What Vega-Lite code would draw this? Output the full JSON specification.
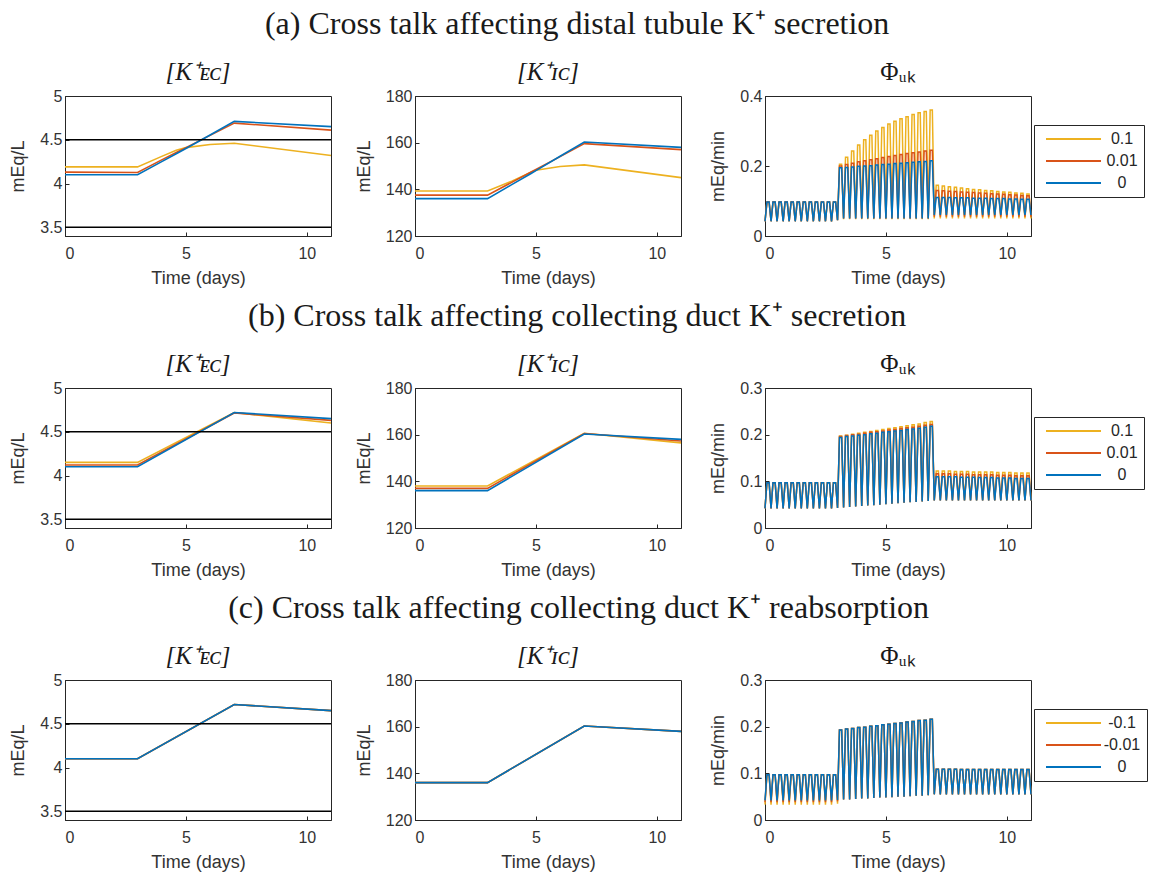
{
"$schema":"https://vega.github.io/schema/vega-lite/v6.json",
"background":"white",
"padding":{"left":9,"top":7,"right":0,"bottom":0},
"bounds":"flush",
"spacing":292,
"config":{
 "view":{"stroke":"#262626","strokeWidth":1},
 "axis":{"labelFont":"Liberation Sans","labelFontSize":16,"labelColor":"#333333","titleFont":"Liberation Sans","titleFontSize":18,"titleFontWeight":"normal","titleColor":"#333333","grid":false,"domainColor":"#262626","tickColor":"#262626","tickSize":-4,"format":"~r"},
 "axisX":{"labelPadding":13,"titlePadding":8},
 "axisY":{"labelPadding":7,"titlePadding":12},
 "legend":{"orient":"none","legendX":269,"legendY":29,"strokeColor":"#262626","fillColor":"white","padding":6,"symbolType":"M-0.4,0H10.6","symbolSize":100,"symbolStrokeWidth":2,"symbolFillColor":"transparent","labelFont":"Liberation Sans","labelFontSize":16,"labelColor":"#262626","labelAlign":"center","rowPadding":6,"labelOffset":66},
 "title":{"font":"Liberation Serif","fontWeight":"normal","color":"#1a1a1a"}
},
"datasets":{
 "A1":[{"t":0,"a":4.19,"m":4.13,"z":4.1},{"t":3,"a":4.19,"m":4.125,"z":4.1},{"t":4,"a":4.31,"m":4.27,"z":4.25},{"t":4.6,"a":4.38,"m":4.355,"z":4.34},{"t":5,"a":4.41,"m":4.41,"z":4.4},{"t":6,"a":4.445,"m":4.55,"z":4.555},{"t":7,"a":4.46,"m":4.69,"z":4.71},{"t":11,"a":4.32,"m":4.61,"z":4.65}],
 "A2":[{"t":0,"a":139.3,"m":137.5,"z":136},{"t":3,"a":139.3,"m":137.5,"z":136},{"t":4,"a":143.5,"m":143,"z":142},{"t":4.8,"a":147.3,"m":147.4,"z":146.8},{"t":5,"a":148.2,"m":148.5,"z":148},{"t":6,"a":149.8,"m":154,"z":154.2},{"t":7,"a":150.5,"m":159.6,"z":160.3},{"t":11,"a":145,"m":157,"z":158}],
 "B1":[{"t":0,"a":4.15,"m":4.12,"z":4.1},{"t":3,"a":4.15,"m":4.12,"z":4.1},{"t":7,"a":4.72,"m":4.715,"z":4.72},{"t":11,"a":4.6,"m":4.63,"z":4.65}],
 "B2":[{"t":0,"a":138,"m":137,"z":136},{"t":3,"a":138,"m":137,"z":136},{"t":7,"a":160.6,"m":160.5,"z":160.3},{"t":11,"a":156.5,"m":157.3,"z":158}],
 "C1":[{"t":0,"a":4.1,"m":4.1,"z":4.1},{"t":3,"a":4.1,"m":4.1,"z":4.1},{"t":7,"a":4.72,"m":4.72,"z":4.72},{"t":11,"a":4.65,"m":4.65,"z":4.65}],
 "C2":[{"t":0,"a":136,"m":136,"z":136},{"t":3,"a":136,"m":136,"z":136},{"t":7,"a":160.3,"m":160.3,"z":160.3},{"t":11,"a":158,"m":158,"z":158}],
 "PA":[
{"t":0,"a":0.042,"m":0.042,"z":0.042},{"t":0.08,"a":0.097,"m":0.097,"z":0.097},{"t":0.17,"a":0.097,"m":0.097,"z":0.097},
{"t":0.25,"a":0.042,"m":0.042,"z":0.042},{"t":0.33,"a":0.097,"m":0.097,"z":0.097},{"t":0.42,"a":0.097,"m":0.097,"z":0.097},
{"t":0.5,"a":0.042,"m":0.042,"z":0.042},{"t":0.58,"a":0.097,"m":0.097,"z":0.097},{"t":0.67,"a":0.097,"m":0.097,"z":0.097},
{"t":0.75,"a":0.042,"m":0.042,"z":0.042},{"t":0.83,"a":0.097,"m":0.097,"z":0.097},{"t":0.92,"a":0.097,"m":0.097,"z":0.097},
{"t":1,"a":0.042,"m":0.042,"z":0.042},{"t":1.08,"a":0.097,"m":0.097,"z":0.097},{"t":1.17,"a":0.097,"m":0.097,"z":0.097},
{"t":1.25,"a":0.042,"m":0.042,"z":0.042},{"t":1.33,"a":0.097,"m":0.097,"z":0.097},{"t":1.42,"a":0.097,"m":0.097,"z":0.097},
{"t":1.5,"a":0.042,"m":0.042,"z":0.042},{"t":1.58,"a":0.097,"m":0.097,"z":0.097},{"t":1.67,"a":0.097,"m":0.097,"z":0.097},
{"t":1.75,"a":0.042,"m":0.042,"z":0.042},{"t":1.83,"a":0.097,"m":0.097,"z":0.097},{"t":1.92,"a":0.097,"m":0.097,"z":0.097},
{"t":2,"a":0.042,"m":0.042,"z":0.042},{"t":2.08,"a":0.097,"m":0.097,"z":0.097},{"t":2.17,"a":0.097,"m":0.097,"z":0.097},
{"t":2.25,"a":0.042,"m":0.042,"z":0.042},{"t":2.33,"a":0.097,"m":0.097,"z":0.097},{"t":2.42,"a":0.097,"m":0.097,"z":0.097},
{"t":2.5,"a":0.042,"m":0.042,"z":0.042},{"t":2.58,"a":0.097,"m":0.097,"z":0.097},{"t":2.67,"a":0.097,"m":0.097,"z":0.097},
{"t":2.75,"a":0.042,"m":0.042,"z":0.042},{"t":2.83,"a":0.097,"m":0.097,"z":0.097},{"t":2.92,"a":0.097,"m":0.097,"z":0.097},
{"t":3,"a":0.045,"m":0.045,"z":0.045},{"t":3.08,"a":0.205,"m":0.2,"z":0.195},{"t":3.17,"a":0.205,"m":0.2,"z":0.195},
{"t":3.25,"a":0.048,"m":0.05,"z":0.05},{"t":3.33,"a":0.225,"m":0.204,"z":0.196},{"t":3.42,"a":0.225,"m":0.204,"z":0.196},
{"t":3.5,"a":0.048,"m":0.05,"z":0.05},{"t":3.58,"a":0.243,"m":0.208,"z":0.197},{"t":3.67,"a":0.243,"m":0.208,"z":0.197},
{"t":3.75,"a":0.048,"m":0.05,"z":0.05},{"t":3.83,"a":0.26,"m":0.212,"z":0.199},{"t":3.92,"a":0.26,"m":0.212,"z":0.199},
{"t":4,"a":0.048,"m":0.05,"z":0.05},{"t":4.08,"a":0.275,"m":0.215,"z":0.2},{"t":4.17,"a":0.275,"m":0.215,"z":0.2},
{"t":4.25,"a":0.048,"m":0.05,"z":0.05},{"t":4.33,"a":0.288,"m":0.218,"z":0.201},{"t":4.42,"a":0.288,"m":0.218,"z":0.201},
{"t":4.5,"a":0.048,"m":0.05,"z":0.05},{"t":4.58,"a":0.3,"m":0.221,"z":0.203},{"t":4.67,"a":0.3,"m":0.221,"z":0.203},
{"t":4.75,"a":0.048,"m":0.05,"z":0.05},{"t":4.83,"a":0.31,"m":0.224,"z":0.204},{"t":4.92,"a":0.31,"m":0.224,"z":0.204},
{"t":5,"a":0.048,"m":0.05,"z":0.05},{"t":5.08,"a":0.32,"m":0.227,"z":0.205},{"t":5.17,"a":0.32,"m":0.227,"z":0.205},
{"t":5.25,"a":0.048,"m":0.05,"z":0.05},{"t":5.33,"a":0.328,"m":0.23,"z":0.207},{"t":5.42,"a":0.328,"m":0.23,"z":0.207},
{"t":5.5,"a":0.048,"m":0.05,"z":0.05},{"t":5.58,"a":0.335,"m":0.233,"z":0.208},{"t":5.67,"a":0.335,"m":0.233,"z":0.208},
{"t":5.75,"a":0.048,"m":0.05,"z":0.05},{"t":5.83,"a":0.341,"m":0.236,"z":0.209},{"t":5.92,"a":0.341,"m":0.236,"z":0.209},
{"t":6,"a":0.048,"m":0.05,"z":0.05},{"t":6.08,"a":0.347,"m":0.238,"z":0.211},{"t":6.17,"a":0.347,"m":0.238,"z":0.211},
{"t":6.25,"a":0.048,"m":0.05,"z":0.05},{"t":6.33,"a":0.352,"m":0.24,"z":0.212},{"t":6.42,"a":0.352,"m":0.24,"z":0.212},
{"t":6.5,"a":0.048,"m":0.05,"z":0.05},{"t":6.58,"a":0.356,"m":0.243,"z":0.213},{"t":6.67,"a":0.356,"m":0.243,"z":0.213},
{"t":6.75,"a":0.048,"m":0.05,"z":0.05},{"t":6.83,"a":0.36,"m":0.245,"z":0.215},{"t":6.92,"a":0.36,"m":0.245,"z":0.215},
{"t":7,"a":0.05,"m":0.055,"z":0.06},{"t":7.08,"a":0.145,"m":0.13,"z":0.11},{"t":7.17,"a":0.145,"m":0.13,"z":0.11},
{"t":7.25,"a":0.05,"m":0.055,"z":0.06},{"t":7.33,"a":0.143,"m":0.129,"z":0.11},{"t":7.42,"a":0.143,"m":0.129,"z":0.11},
{"t":7.5,"a":0.05,"m":0.055,"z":0.06},{"t":7.58,"a":0.141,"m":0.128,"z":0.11},{"t":7.67,"a":0.141,"m":0.128,"z":0.11},
{"t":7.75,"a":0.05,"m":0.055,"z":0.06},{"t":7.83,"a":0.139,"m":0.127,"z":0.109},{"t":7.92,"a":0.139,"m":0.127,"z":0.109},
{"t":8,"a":0.05,"m":0.055,"z":0.06},{"t":8.08,"a":0.137,"m":0.126,"z":0.109},{"t":8.17,"a":0.137,"m":0.126,"z":0.109},
{"t":8.25,"a":0.05,"m":0.055,"z":0.06},{"t":8.33,"a":0.135,"m":0.125,"z":0.109},{"t":8.42,"a":0.135,"m":0.125,"z":0.109},
{"t":8.5,"a":0.05,"m":0.055,"z":0.06},{"t":8.58,"a":0.133,"m":0.124,"z":0.108},{"t":8.67,"a":0.133,"m":0.124,"z":0.108},
{"t":8.75,"a":0.05,"m":0.055,"z":0.06},{"t":8.83,"a":0.132,"m":0.123,"z":0.108},{"t":8.92,"a":0.132,"m":0.123,"z":0.108},
{"t":9,"a":0.05,"m":0.055,"z":0.06},{"t":9.08,"a":0.13,"m":0.122,"z":0.108},{"t":9.17,"a":0.13,"m":0.122,"z":0.108},
{"t":9.25,"a":0.05,"m":0.055,"z":0.06},{"t":9.33,"a":0.129,"m":0.121,"z":0.107},{"t":9.42,"a":0.129,"m":0.121,"z":0.107},
{"t":9.5,"a":0.05,"m":0.055,"z":0.06},{"t":9.58,"a":0.127,"m":0.12,"z":0.107},{"t":9.67,"a":0.127,"m":0.12,"z":0.107},
{"t":9.75,"a":0.05,"m":0.055,"z":0.06},{"t":9.83,"a":0.126,"m":0.119,"z":0.107},{"t":9.92,"a":0.126,"m":0.119,"z":0.107},
{"t":10,"a":0.05,"m":0.055,"z":0.06},{"t":10.08,"a":0.125,"m":0.118,"z":0.106},{"t":10.17,"a":0.125,"m":0.118,"z":0.106},
{"t":10.25,"a":0.05,"m":0.055,"z":0.06},{"t":10.33,"a":0.123,"m":0.117,"z":0.106},{"t":10.42,"a":0.123,"m":0.117,"z":0.106},
{"t":10.5,"a":0.05,"m":0.055,"z":0.06},{"t":10.58,"a":0.122,"m":0.116,"z":0.105},{"t":10.67,"a":0.122,"m":0.116,"z":0.105},
{"t":10.75,"a":0.05,"m":0.055,"z":0.06},{"t":10.83,"a":0.12,"m":0.115,"z":0.105},{"t":10.92,"a":0.12,"m":0.115,"z":0.105},
{"t":11,"a":0.05,"m":0.055,"z":0.06}],
 "PB":[
{"t":0,"a":0.042,"m":0.042,"z":0.042},{"t":0.08,"a":0.097,"m":0.097,"z":0.097},{"t":0.17,"a":0.097,"m":0.097,"z":0.097},
{"t":0.25,"a":0.042,"m":0.042,"z":0.042},{"t":0.33,"a":0.097,"m":0.097,"z":0.097},{"t":0.42,"a":0.097,"m":0.097,"z":0.097},
{"t":0.5,"a":0.042,"m":0.042,"z":0.042},{"t":0.58,"a":0.097,"m":0.097,"z":0.097},{"t":0.67,"a":0.097,"m":0.097,"z":0.097},
{"t":0.75,"a":0.042,"m":0.042,"z":0.042},{"t":0.83,"a":0.097,"m":0.097,"z":0.097},{"t":0.92,"a":0.097,"m":0.097,"z":0.097},
{"t":1,"a":0.042,"m":0.042,"z":0.042},{"t":1.08,"a":0.097,"m":0.097,"z":0.097},{"t":1.17,"a":0.097,"m":0.097,"z":0.097},
{"t":1.25,"a":0.042,"m":0.042,"z":0.042},{"t":1.33,"a":0.097,"m":0.097,"z":0.097},{"t":1.42,"a":0.097,"m":0.097,"z":0.097},
{"t":1.5,"a":0.042,"m":0.042,"z":0.042},{"t":1.58,"a":0.097,"m":0.097,"z":0.097},{"t":1.67,"a":0.097,"m":0.097,"z":0.097},
{"t":1.75,"a":0.042,"m":0.042,"z":0.042},{"t":1.83,"a":0.097,"m":0.097,"z":0.097},{"t":1.92,"a":0.097,"m":0.097,"z":0.097},
{"t":2,"a":0.042,"m":0.042,"z":0.042},{"t":2.08,"a":0.097,"m":0.097,"z":0.097},{"t":2.17,"a":0.097,"m":0.097,"z":0.097},
{"t":2.25,"a":0.042,"m":0.042,"z":0.042},{"t":2.33,"a":0.097,"m":0.097,"z":0.097},{"t":2.42,"a":0.097,"m":0.097,"z":0.097},
{"t":2.5,"a":0.042,"m":0.042,"z":0.042},{"t":2.58,"a":0.097,"m":0.097,"z":0.097},{"t":2.67,"a":0.097,"m":0.097,"z":0.097},
{"t":2.75,"a":0.042,"m":0.042,"z":0.042},{"t":2.83,"a":0.097,"m":0.097,"z":0.097},{"t":2.92,"a":0.097,"m":0.097,"z":0.097},
{"t":3,"a":0.043,"m":0.043,"z":0.043},{"t":3.08,"a":0.197,"m":0.196,"z":0.194},{"t":3.17,"a":0.197,"m":0.196,"z":0.194},
{"t":3.25,"a":0.044,"m":0.044,"z":0.044},{"t":3.33,"a":0.199,"m":0.198,"z":0.196},{"t":3.42,"a":0.199,"m":0.198,"z":0.196},
{"t":3.5,"a":0.045,"m":0.045,"z":0.045},{"t":3.58,"a":0.201,"m":0.2,"z":0.197},{"t":3.67,"a":0.201,"m":0.2,"z":0.197},
{"t":3.75,"a":0.046,"m":0.046,"z":0.046},{"t":3.83,"a":0.203,"m":0.201,"z":0.199},{"t":3.92,"a":0.203,"m":0.201,"z":0.199},
{"t":4,"a":0.047,"m":0.047,"z":0.047},{"t":4.08,"a":0.205,"m":0.203,"z":0.2},{"t":4.17,"a":0.205,"m":0.203,"z":0.2},
{"t":4.25,"a":0.048,"m":0.048,"z":0.048},{"t":4.33,"a":0.207,"m":0.205,"z":0.202},{"t":4.42,"a":0.207,"m":0.205,"z":0.202},
{"t":4.5,"a":0.049,"m":0.049,"z":0.049},{"t":4.58,"a":0.209,"m":0.206,"z":0.203},{"t":4.67,"a":0.209,"m":0.206,"z":0.203},
{"t":4.75,"a":0.05,"m":0.05,"z":0.05},{"t":4.83,"a":0.211,"m":0.208,"z":0.205},{"t":4.92,"a":0.211,"m":0.208,"z":0.205},
{"t":5,"a":0.051,"m":0.051,"z":0.051},{"t":5.08,"a":0.213,"m":0.21,"z":0.206},{"t":5.17,"a":0.213,"m":0.21,"z":0.206},
{"t":5.25,"a":0.052,"m":0.052,"z":0.052},{"t":5.33,"a":0.215,"m":0.211,"z":0.208},{"t":5.42,"a":0.215,"m":0.211,"z":0.208},
{"t":5.5,"a":0.053,"m":0.053,"z":0.053},{"t":5.58,"a":0.217,"m":0.213,"z":0.209},{"t":5.67,"a":0.217,"m":0.213,"z":0.209},
{"t":5.75,"a":0.054,"m":0.054,"z":0.054},{"t":5.83,"a":0.219,"m":0.215,"z":0.211},{"t":5.92,"a":0.219,"m":0.215,"z":0.211},
{"t":6,"a":0.055,"m":0.055,"z":0.055},{"t":6.08,"a":0.221,"m":0.216,"z":0.212},{"t":6.17,"a":0.221,"m":0.216,"z":0.212},
{"t":6.25,"a":0.056,"m":0.056,"z":0.056},{"t":6.33,"a":0.223,"m":0.218,"z":0.214},{"t":6.42,"a":0.223,"m":0.218,"z":0.214},
{"t":6.5,"a":0.057,"m":0.057,"z":0.057},{"t":6.58,"a":0.226,"m":0.22,"z":0.216},{"t":6.67,"a":0.226,"m":0.22,"z":0.216},
{"t":6.75,"a":0.058,"m":0.058,"z":0.058},{"t":6.83,"a":0.228,"m":0.222,"z":0.218},{"t":6.92,"a":0.228,"m":0.222,"z":0.218},
{"t":7,"a":0.059,"m":0.059,"z":0.059},{"t":7.08,"a":0.122,"m":0.116,"z":0.11},{"t":7.17,"a":0.122,"m":0.116,"z":0.11},
{"t":7.25,"a":0.059,"m":0.059,"z":0.059},{"t":7.33,"a":0.122,"m":0.116,"z":0.11},{"t":7.42,"a":0.122,"m":0.116,"z":0.11},
{"t":7.5,"a":0.059,"m":0.059,"z":0.059},{"t":7.58,"a":0.122,"m":0.116,"z":0.11},{"t":7.67,"a":0.122,"m":0.116,"z":0.11},
{"t":7.75,"a":0.059,"m":0.059,"z":0.059},{"t":7.83,"a":0.121,"m":0.115,"z":0.11},{"t":7.92,"a":0.121,"m":0.115,"z":0.11},
{"t":8,"a":0.059,"m":0.059,"z":0.059},{"t":8.08,"a":0.121,"m":0.115,"z":0.109},{"t":8.17,"a":0.121,"m":0.115,"z":0.109},
{"t":8.25,"a":0.059,"m":0.059,"z":0.059},{"t":8.33,"a":0.121,"m":0.115,"z":0.109},{"t":8.42,"a":0.121,"m":0.115,"z":0.109},
{"t":8.5,"a":0.059,"m":0.059,"z":0.059},{"t":8.58,"a":0.12,"m":0.114,"z":0.109},{"t":8.67,"a":0.12,"m":0.114,"z":0.109},
{"t":8.75,"a":0.059,"m":0.059,"z":0.059},{"t":8.83,"a":0.12,"m":0.114,"z":0.108},{"t":8.92,"a":0.12,"m":0.114,"z":0.108},
{"t":9,"a":0.059,"m":0.059,"z":0.059},{"t":9.08,"a":0.12,"m":0.114,"z":0.108},{"t":9.17,"a":0.12,"m":0.114,"z":0.108},
{"t":9.25,"a":0.059,"m":0.059,"z":0.059},{"t":9.33,"a":0.12,"m":0.114,"z":0.108},{"t":9.42,"a":0.12,"m":0.114,"z":0.108},
{"t":9.5,"a":0.059,"m":0.059,"z":0.059},{"t":9.58,"a":0.119,"m":0.113,"z":0.107},{"t":9.67,"a":0.119,"m":0.113,"z":0.107},
{"t":9.75,"a":0.059,"m":0.059,"z":0.059},{"t":9.83,"a":0.119,"m":0.113,"z":0.107},{"t":9.92,"a":0.119,"m":0.113,"z":0.107},
{"t":10,"a":0.059,"m":0.059,"z":0.059},{"t":10.08,"a":0.119,"m":0.113,"z":0.107},{"t":10.17,"a":0.119,"m":0.113,"z":0.107},
{"t":10.25,"a":0.059,"m":0.059,"z":0.059},{"t":10.33,"a":0.118,"m":0.112,"z":0.106},{"t":10.42,"a":0.118,"m":0.112,"z":0.106},
{"t":10.5,"a":0.059,"m":0.059,"z":0.059},{"t":10.58,"a":0.118,"m":0.112,"z":0.106},{"t":10.67,"a":0.118,"m":0.112,"z":0.106},
{"t":10.75,"a":0.059,"m":0.059,"z":0.059},{"t":10.83,"a":0.118,"m":0.112,"z":0.106},{"t":10.92,"a":0.118,"m":0.112,"z":0.106},
{"t":11,"a":0.059,"m":0.059,"z":0.059}],
 "PC":[
{"t":0,"a":0.033,"m":0.038,"z":0.042},{"t":0.08,"a":0.097,"m":0.097,"z":0.097},{"t":0.17,"a":0.097,"m":0.097,"z":0.097},
{"t":0.25,"a":0.033,"m":0.038,"z":0.042},{"t":0.33,"a":0.097,"m":0.097,"z":0.097},{"t":0.42,"a":0.097,"m":0.097,"z":0.097},
{"t":0.5,"a":0.033,"m":0.038,"z":0.042},{"t":0.58,"a":0.097,"m":0.097,"z":0.097},{"t":0.67,"a":0.097,"m":0.097,"z":0.097},
{"t":0.75,"a":0.033,"m":0.038,"z":0.042},{"t":0.83,"a":0.097,"m":0.097,"z":0.097},{"t":0.92,"a":0.097,"m":0.097,"z":0.097},
{"t":1,"a":0.033,"m":0.038,"z":0.042},{"t":1.08,"a":0.097,"m":0.097,"z":0.097},{"t":1.17,"a":0.097,"m":0.097,"z":0.097},
{"t":1.25,"a":0.033,"m":0.038,"z":0.042},{"t":1.33,"a":0.097,"m":0.097,"z":0.097},{"t":1.42,"a":0.097,"m":0.097,"z":0.097},
{"t":1.5,"a":0.033,"m":0.038,"z":0.042},{"t":1.58,"a":0.097,"m":0.097,"z":0.097},{"t":1.67,"a":0.097,"m":0.097,"z":0.097},
{"t":1.75,"a":0.033,"m":0.038,"z":0.042},{"t":1.83,"a":0.097,"m":0.097,"z":0.097},{"t":1.92,"a":0.097,"m":0.097,"z":0.097},
{"t":2,"a":0.033,"m":0.038,"z":0.042},{"t":2.08,"a":0.097,"m":0.097,"z":0.097},{"t":2.17,"a":0.097,"m":0.097,"z":0.097},
{"t":2.25,"a":0.033,"m":0.038,"z":0.042},{"t":2.33,"a":0.097,"m":0.097,"z":0.097},{"t":2.42,"a":0.097,"m":0.097,"z":0.097},
{"t":2.5,"a":0.033,"m":0.038,"z":0.042},{"t":2.58,"a":0.097,"m":0.097,"z":0.097},{"t":2.67,"a":0.097,"m":0.097,"z":0.097},
{"t":2.75,"a":0.033,"m":0.038,"z":0.042},{"t":2.83,"a":0.097,"m":0.097,"z":0.097},{"t":2.92,"a":0.097,"m":0.097,"z":0.097},
{"t":3,"a":0.035,"m":0.04,"z":0.043},{"t":3.08,"a":0.193,"m":0.193,"z":0.193},{"t":3.17,"a":0.193,"m":0.193,"z":0.193},
{"t":3.25,"a":0.044,"m":0.044,"z":0.044},{"t":3.33,"a":0.195,"m":0.195,"z":0.195},{"t":3.42,"a":0.195,"m":0.195,"z":0.195},
{"t":3.5,"a":0.044,"m":0.044,"z":0.044},{"t":3.58,"a":0.196,"m":0.196,"z":0.196},{"t":3.67,"a":0.196,"m":0.196,"z":0.196},
{"t":3.75,"a":0.045,"m":0.045,"z":0.045},{"t":3.83,"a":0.198,"m":0.198,"z":0.198},{"t":3.92,"a":0.198,"m":0.198,"z":0.198},
{"t":4,"a":0.046,"m":0.046,"z":0.046},{"t":4.08,"a":0.199,"m":0.199,"z":0.199},{"t":4.17,"a":0.199,"m":0.199,"z":0.199},
{"t":4.25,"a":0.046,"m":0.046,"z":0.046},{"t":4.33,"a":0.201,"m":0.201,"z":0.201},{"t":4.42,"a":0.201,"m":0.201,"z":0.201},
{"t":4.5,"a":0.047,"m":0.047,"z":0.047},{"t":4.58,"a":0.202,"m":0.202,"z":0.202},{"t":4.67,"a":0.202,"m":0.202,"z":0.202},
{"t":4.75,"a":0.048,"m":0.048,"z":0.048},{"t":4.83,"a":0.204,"m":0.204,"z":0.204},{"t":4.92,"a":0.204,"m":0.204,"z":0.204},
{"t":5,"a":0.048,"m":0.048,"z":0.048},{"t":5.08,"a":0.205,"m":0.205,"z":0.205},{"t":5.17,"a":0.205,"m":0.205,"z":0.205},
{"t":5.25,"a":0.049,"m":0.049,"z":0.049},{"t":5.33,"a":0.207,"m":0.207,"z":0.207},{"t":5.42,"a":0.207,"m":0.207,"z":0.207},
{"t":5.5,"a":0.05,"m":0.05,"z":0.05},{"t":5.58,"a":0.208,"m":0.208,"z":0.208},{"t":5.67,"a":0.208,"m":0.208,"z":0.208},
{"t":5.75,"a":0.05,"m":0.05,"z":0.05},{"t":5.83,"a":0.21,"m":0.21,"z":0.21},{"t":5.92,"a":0.21,"m":0.21,"z":0.21},
{"t":6,"a":0.051,"m":0.051,"z":0.051},{"t":6.08,"a":0.211,"m":0.211,"z":0.211},{"t":6.17,"a":0.211,"m":0.211,"z":0.211},
{"t":6.25,"a":0.052,"m":0.052,"z":0.052},{"t":6.33,"a":0.213,"m":0.213,"z":0.213},{"t":6.42,"a":0.213,"m":0.213,"z":0.213},
{"t":6.5,"a":0.052,"m":0.052,"z":0.052},{"t":6.58,"a":0.214,"m":0.214,"z":0.214},{"t":6.67,"a":0.214,"m":0.214,"z":0.214},
{"t":6.75,"a":0.053,"m":0.053,"z":0.053},{"t":6.83,"a":0.216,"m":0.216,"z":0.216},{"t":6.92,"a":0.216,"m":0.216,"z":0.216},
{"t":7,"a":0.055,"m":0.055,"z":0.055},{"t":7.08,"a":0.109,"m":0.109,"z":0.109},{"t":7.17,"a":0.109,"m":0.109,"z":0.109},
{"t":7.25,"a":0.055,"m":0.055,"z":0.055},{"t":7.33,"a":0.109,"m":0.109,"z":0.109},{"t":7.42,"a":0.109,"m":0.109,"z":0.109},
{"t":7.5,"a":0.055,"m":0.055,"z":0.055},{"t":7.58,"a":0.109,"m":0.109,"z":0.109},{"t":7.67,"a":0.109,"m":0.109,"z":0.109},
{"t":7.75,"a":0.055,"m":0.055,"z":0.055},{"t":7.83,"a":0.109,"m":0.109,"z":0.109},{"t":7.92,"a":0.109,"m":0.109,"z":0.109},
{"t":8,"a":0.055,"m":0.055,"z":0.055},{"t":8.08,"a":0.108,"m":0.108,"z":0.108},{"t":8.17,"a":0.108,"m":0.108,"z":0.108},
{"t":8.25,"a":0.055,"m":0.055,"z":0.055},{"t":8.33,"a":0.108,"m":0.108,"z":0.108},{"t":8.42,"a":0.108,"m":0.108,"z":0.108},
{"t":8.5,"a":0.055,"m":0.055,"z":0.055},{"t":8.58,"a":0.108,"m":0.108,"z":0.108},{"t":8.67,"a":0.108,"m":0.108,"z":0.108},
{"t":8.75,"a":0.055,"m":0.055,"z":0.055},{"t":8.83,"a":0.108,"m":0.108,"z":0.108},{"t":8.92,"a":0.108,"m":0.108,"z":0.108},
{"t":9,"a":0.055,"m":0.055,"z":0.055},{"t":9.08,"a":0.108,"m":0.108,"z":0.108},{"t":9.17,"a":0.108,"m":0.108,"z":0.108},
{"t":9.25,"a":0.055,"m":0.055,"z":0.055},{"t":9.33,"a":0.108,"m":0.108,"z":0.108},{"t":9.42,"a":0.108,"m":0.108,"z":0.108},
{"t":9.5,"a":0.055,"m":0.055,"z":0.055},{"t":9.58,"a":0.108,"m":0.108,"z":0.108},{"t":9.67,"a":0.108,"m":0.108,"z":0.108},
{"t":9.75,"a":0.055,"m":0.055,"z":0.055},{"t":9.83,"a":0.108,"m":0.108,"z":0.108},{"t":9.92,"a":0.108,"m":0.108,"z":0.108},
{"t":10,"a":0.055,"m":0.055,"z":0.055},{"t":10.08,"a":0.108,"m":0.108,"z":0.108},{"t":10.17,"a":0.108,"m":0.108,"z":0.108},
{"t":10.25,"a":0.055,"m":0.055,"z":0.055},{"t":10.33,"a":0.108,"m":0.108,"z":0.108},{"t":10.42,"a":0.108,"m":0.108,"z":0.108},
{"t":10.5,"a":0.055,"m":0.055,"z":0.055},{"t":10.58,"a":0.108,"m":0.108,"z":0.108},{"t":10.67,"a":0.108,"m":0.108,"z":0.108},
{"t":10.75,"a":0.055,"m":0.055,"z":0.055},{"t":10.83,"a":0.108,"m":0.108,"z":0.108},{"t":10.92,"a":0.108,"m":0.108,"z":0.108},
{"t":11,"a":0.055,"m":0.055,"z":0.055}],
 "REF":[{"v":4.5},{"v":3.5}]
},
"resolve":{"scale":{"color":"independent","x":"independent","y":"independent"},"legend":{"color":"independent"}},
"vconcat":[
{"title":{"text":"(a) Cross talk affecting distal tubule K⁺ secretion","fontSize":32,"anchor":"middle","offset":19},
 "bounds":"flush","spacing":84,
 "resolve":{"scale":{"color":"independent","x":"independent","y":"independent"},"legend":{"color":"independent"}},
 "hconcat":[
  {"width":266,"height":140,"title":{"text":"[K⁺ᴇᴄ]","fontSize":25,"fontStyle":"italic","offset":3},
   "layer":[
    {"data":{"name":"A1"},"transform":[{"fold":["a","m","z"],"as":["s","v"]}],"mark":{"type":"line","strokeWidth":1.6},
     "encoding":{"x":{"field":"t","type":"quantitative","scale":{"domain":[0,11]},"axis":{"values":[0,5,10],"title":"Time (days)"}},
      "y":{"field":"v","type":"quantitative","scale":{"domain":[3.5,5]},"axis":{"values":[3.5,4,4.5,5],"title":"mEq/L"}},
      "color":{"field":"s","type":"nominal","scale":{"domain":["a","m","z"],"range":["#EDB120","#D95319","#0072BD"]},"legend":null}}},
    {"data":{"name":"REF"},"mark":{"type":"rule","color":"#000000","strokeWidth":1.5},"encoding":{"y":{"field":"v","type":"quantitative"}}}
   ]},
  {"width":266,"height":140,"title":{"text":"[K⁺ɪᴄ]","fontSize":25,"fontStyle":"italic","offset":3},
   "data":{"name":"A2"},"transform":[{"fold":["a","m","z"],"as":["s","v"]}],"mark":{"type":"line","strokeWidth":1.6},
   "encoding":{"x":{"field":"t","type":"quantitative","scale":{"domain":[0,11]},"axis":{"values":[0,5,10],"title":"Time (days)"}},
    "y":{"field":"v","type":"quantitative","scale":{"domain":[120,180]},"axis":{"values":[120,140,160,180],"title":"mEq/L"}},
    "color":{"field":"s","type":"nominal","scale":{"domain":["a","m","z"],"range":["#EDB120","#D95319","#0072BD"]},"legend":null}}},
  {"width":266,"height":140,"title":{"text":"Φᵤₖ","fontSize":25,"offset":3},
   "data":{"name":"PA"},"transform":[{"fold":["a","m","z"],"as":["s","v"]}],"mark":{"type":"line","strokeWidth":1.5},
   "encoding":{"x":{"field":"t","type":"quantitative","scale":{"domain":[0,11]},"axis":{"values":[0,5,10],"title":"Time (days)"}},
    "y":{"field":"v","type":"quantitative","scale":{"domain":[0,0.4]},"axis":{"values":[0,0.2,0.4],"title":"mEq/min"}},
    "color":{"field":"s","type":"nominal","scale":{"domain":["a","m","z"],"range":["#EDB120","#D95319","#0072BD"]},"legend":{"title":null,"labelExpr":"datum.label=='a'?'0.1':datum.label=='m'?'0.01':'0'"}}}}
 ]},
{"title":{"text":"(b) Cross talk affecting collecting duct K⁺ secretion","fontSize":32,"anchor":"middle","offset":19},
 "bounds":"flush","spacing":84,
 "resolve":{"scale":{"color":"independent","x":"independent","y":"independent"},"legend":{"color":"independent"}},
 "hconcat":[
  {"width":266,"height":140,"title":{"text":"[K⁺ᴇᴄ]","fontSize":25,"fontStyle":"italic","offset":3},
   "layer":[
    {"data":{"name":"B1"},"transform":[{"fold":["a","m","z"],"as":["s","v"]}],"mark":{"type":"line","strokeWidth":1.6},
     "encoding":{"x":{"field":"t","type":"quantitative","scale":{"domain":[0,11]},"axis":{"values":[0,5,10],"title":"Time (days)"}},
      "y":{"field":"v","type":"quantitative","scale":{"domain":[3.5,5]},"axis":{"values":[3.5,4,4.5,5],"title":"mEq/L"}},
      "color":{"field":"s","type":"nominal","scale":{"domain":["a","m","z"],"range":["#EDB120","#D95319","#0072BD"]},"legend":null}}},
    {"data":{"name":"REF"},"mark":{"type":"rule","color":"#000000","strokeWidth":1.5},"encoding":{"y":{"field":"v","type":"quantitative"}}}
   ]},
  {"width":266,"height":140,"title":{"text":"[K⁺ɪᴄ]","fontSize":25,"fontStyle":"italic","offset":3},
   "data":{"name":"B2"},"transform":[{"fold":["a","m","z"],"as":["s","v"]}],"mark":{"type":"line","strokeWidth":1.6},
   "encoding":{"x":{"field":"t","type":"quantitative","scale":{"domain":[0,11]},"axis":{"values":[0,5,10],"title":"Time (days)"}},
    "y":{"field":"v","type":"quantitative","scale":{"domain":[120,180]},"axis":{"values":[120,140,160,180],"title":"mEq/L"}},
    "color":{"field":"s","type":"nominal","scale":{"domain":["a","m","z"],"range":["#EDB120","#D95319","#0072BD"]},"legend":null}}},
  {"width":266,"height":140,"title":{"text":"Φᵤₖ","fontSize":25,"offset":3},
   "data":{"name":"PB"},"transform":[{"fold":["a","m","z"],"as":["s","v"]}],"mark":{"type":"line","strokeWidth":1.5},
   "encoding":{"x":{"field":"t","type":"quantitative","scale":{"domain":[0,11]},"axis":{"values":[0,5,10],"title":"Time (days)"}},
    "y":{"field":"v","type":"quantitative","scale":{"domain":[0,0.3]},"axis":{"values":[0,0.1,0.2,0.3],"title":"mEq/min"}},
    "color":{"field":"s","type":"nominal","scale":{"domain":["a","m","z"],"range":["#EDB120","#D95319","#0072BD"]},"legend":{"title":null,"labelExpr":"datum.label=='a'?'0.1':datum.label=='m'?'0.01':'0'"}}}}
 ]},
{"title":{"text":"(c) Cross talk affecting collecting duct K⁺ reabsorption","fontSize":32,"anchor":"middle","offset":19},
 "bounds":"flush","spacing":84,
 "resolve":{"scale":{"color":"independent","x":"independent","y":"independent"},"legend":{"color":"independent"}},
 "hconcat":[
  {"width":266,"height":140,"title":{"text":"[K⁺ᴇᴄ]","fontSize":25,"fontStyle":"italic","offset":3},
   "layer":[
    {"data":{"name":"C1"},"transform":[{"fold":["a","m","z"],"as":["s","v"]}],"mark":{"type":"line","strokeWidth":1.6},
     "encoding":{"x":{"field":"t","type":"quantitative","scale":{"domain":[0,11]},"axis":{"values":[0,5,10],"title":"Time (days)"}},
      "y":{"field":"v","type":"quantitative","scale":{"domain":[3.5,5]},"axis":{"values":[3.5,4,4.5,5],"title":"mEq/L"}},
      "color":{"field":"s","type":"nominal","scale":{"domain":["a","m","z"],"range":["#EDB120","#D95319","#0072BD"]},"legend":null}}},
    {"data":{"name":"REF"},"mark":{"type":"rule","color":"#000000","strokeWidth":1.5},"encoding":{"y":{"field":"v","type":"quantitative"}}}
   ]},
  {"width":266,"height":140,"title":{"text":"[K⁺ɪᴄ]","fontSize":25,"fontStyle":"italic","offset":3},
   "data":{"name":"C2"},"transform":[{"fold":["a","m","z"],"as":["s","v"]}],"mark":{"type":"line","strokeWidth":1.6},
   "encoding":{"x":{"field":"t","type":"quantitative","scale":{"domain":[0,11]},"axis":{"values":[0,5,10],"title":"Time (days)"}},
    "y":{"field":"v","type":"quantitative","scale":{"domain":[120,180]},"axis":{"values":[120,140,160,180],"title":"mEq/L"}},
    "color":{"field":"s","type":"nominal","scale":{"domain":["a","m","z"],"range":["#EDB120","#D95319","#0072BD"]},"legend":null}}},
  {"width":266,"height":140,"title":{"text":"Φᵤₖ","fontSize":25,"offset":3},
   "data":{"name":"PC"},"transform":[{"fold":["a","m","z"],"as":["s","v"]}],"mark":{"type":"line","strokeWidth":1.5},
   "encoding":{"x":{"field":"t","type":"quantitative","scale":{"domain":[0,11]},"axis":{"values":[0,5,10],"title":"Time (days)"}},
    "y":{"field":"v","type":"quantitative","scale":{"domain":[0,0.3]},"axis":{"values":[0,0.1,0.2,0.3],"title":"mEq/min"}},
    "color":{"field":"s","type":"nominal","scale":{"domain":["a","m","z"],"range":["#EDB120","#D95319","#0072BD"]},"legend":{"title":null,"labelExpr":"datum.label=='a'?'-0.1':datum.label=='m'?'-0.01':'0'"}}}}
 ]}
]
}
